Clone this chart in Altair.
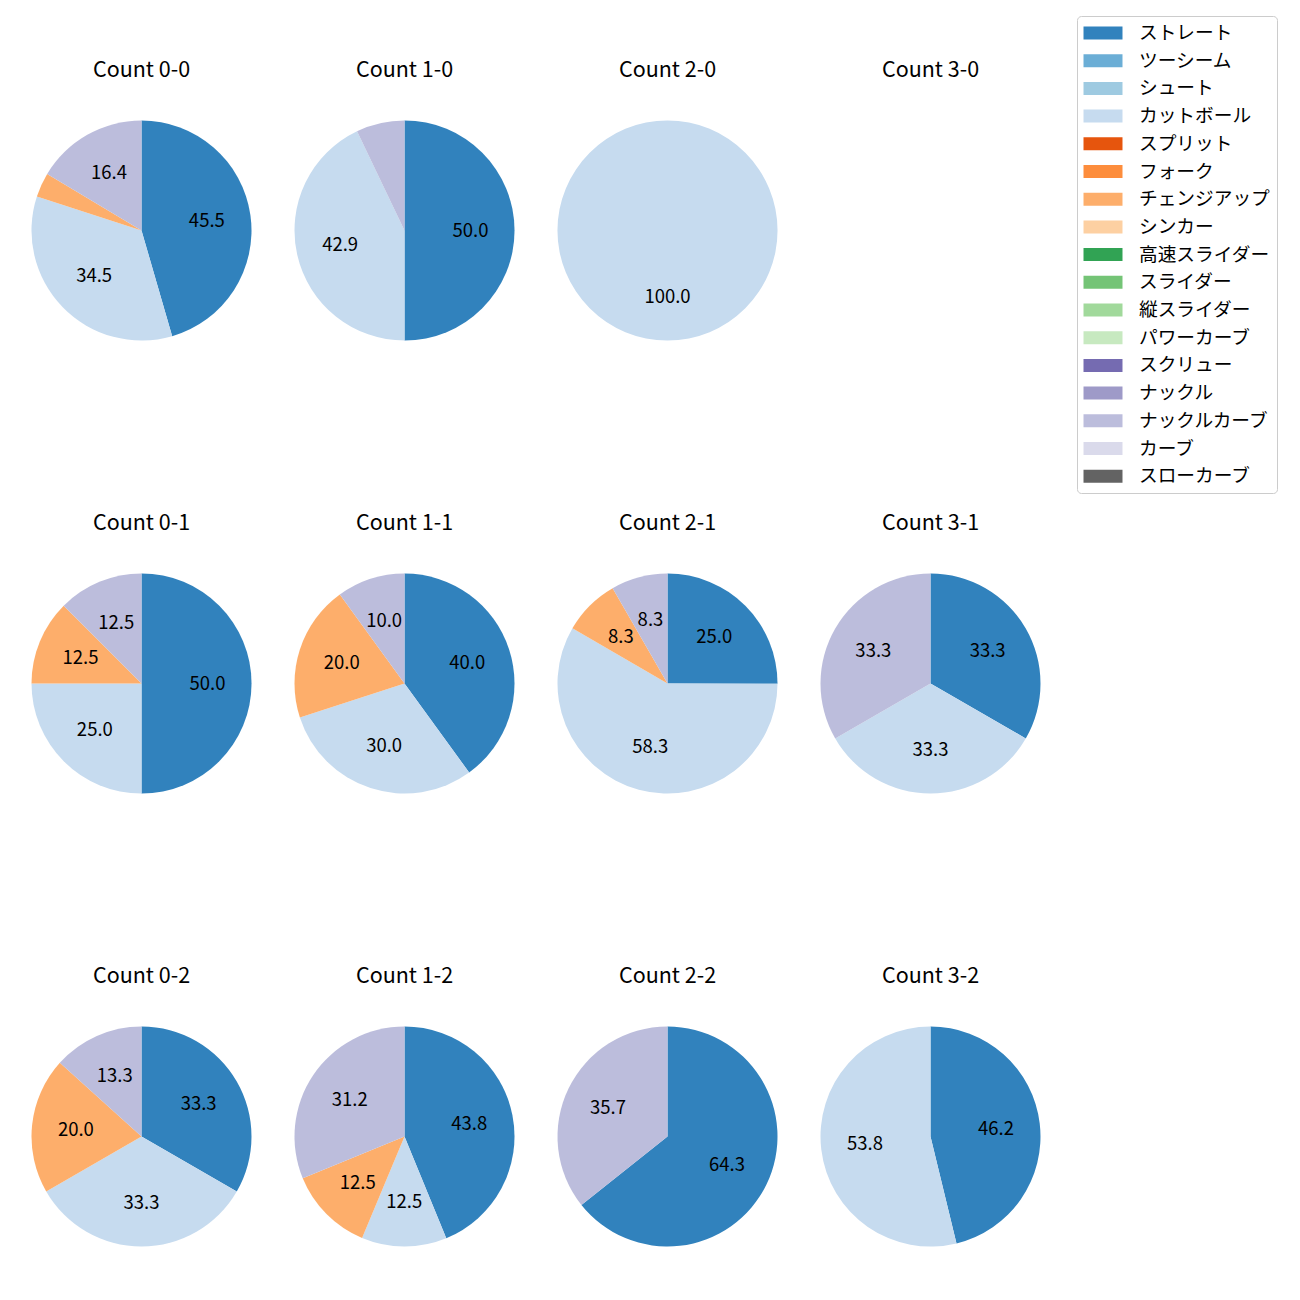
import altair as alt
import pandas as pd

FONT = "Noto Sans CJK JP"

counts = ["0-0", "1-0", "2-0", "3-0", "0-1", "1-1", "2-1", "3-1", "0-2", "1-2", "2-2", "3-2"]
pitch_types = ["ストレート", "ツーシーム", "シュート", "カットボール", "スプリット", "フォーク",
               "チェンジアップ", "シンカー", "高速スライダー", "スライダー", "縦スライダー",
               "パワーカーブ", "スクリュー", "ナックル", "ナックルカーブ", "カーブ", "スローカーブ"]
colors = ["#3182bd", "#6baed6", "#9ecae1", "#c6dbef", "#e6550d", "#fd8d3c", "#fdae6b", "#fdd0a2",
          "#31a354", "#74c476", "#a1d99b", "#c7e9c0", "#756bb1", "#9e9ac8", "#bcbddc", "#dadaeb",
          "#636363"]

# percentages per count (order of counts above)
straight = [45.5, 50.0, 0, 0, 50.0, 40.0, 25.0, 33.3, 33.3, 43.8, 64.3, 46.2]
cutball = [34.5, 42.9, 100.0, 0, 25.0, 30.0, 58.3, 33.3, 33.3, 12.5, 0, 53.8]
changeup = [3.6, 0, 0, 0, 12.5, 20.0, 8.3, 0, 20.0, 12.5, 0, 0]
knuckle_curve = [16.4, 7.1, 0, 0, 12.5, 10.0, 8.3, 33.3, 13.3, 31.2, 35.7, 0]

series = [("ストレート", straight), ("カットボール", cutball),
          ("チェンジアップ", changeup), ("ナックルカーブ", knuckle_curve)]

rows = []
for i, c in enumerate(counts):
    for name, vals in series:
        if vals[i] > 0:
            rows.append({"cnt": c, "pitch": name, "pct": vals[i], "ord": pitch_types.index(name)})
df = pd.DataFrame(rows)

legend = alt.Legend(
    title=None, orient="none", legendX=1067, legendY=-83,
    symbolType="M-2,-0.667H2V0.667H-2Z", symbolSize=380, symbolStrokeWidth=0,
    symbolOffset=9,
    labelFont=FONT, labelFontSize=18.7, labelColor="black",
    strokeColor="#cccccc", cornerRadius=4, padding=7, rowPadding=7.7, labelOffset=26,
    fillColor="white", values=pitch_types,
)


def panel(c):
    base = alt.Chart().transform_filter(alt.datum.cnt == c).encode(
        theta=alt.Theta("pct:Q", stack=True),
        order=alt.Order("ord:Q", sort="ascending"),
    )
    arc = base.mark_arc(radius=110, strokeWidth=0).encode(
        color=alt.Color("pitch:N", scale=alt.Scale(domain=pitch_types, range=colors), legend=legend)
    )
    text = base.transform_calculate(
        label="datum.pct >= 8 ? format(datum.pct, '.1f') : ''"
    ).mark_text(radius=66, fontSize=18.5, font=FONT, color="black").encode(text="label:N")
    return alt.layer(arc, text).properties(
        width=263, height=263,
        title=alt.TitleParams(f"Count {c}", fontSize=21.5, font=FONT, fontWeight="normal",
                              color="black", offset=18, anchor="middle"),
    )


grid_rows = []
for r in range(3):
    grid_rows.append(
        alt.hconcat(*[panel(counts[r * 4 + k]) for k in range(4)], spacing=0)
        .resolve_scale(theta="independent", color="shared")
    )

chart = alt.vconcat(*grid_rows, data=df, spacing=150).resolve_scale(
    theta="independent", color="shared"
).properties(
    padding={"top": 7, "left": 2, "right": 5, "bottom": 5}
).configure_view(stroke=None)

chart.save("out.html", embed_options={"renderer": "svg", "actions": False})
